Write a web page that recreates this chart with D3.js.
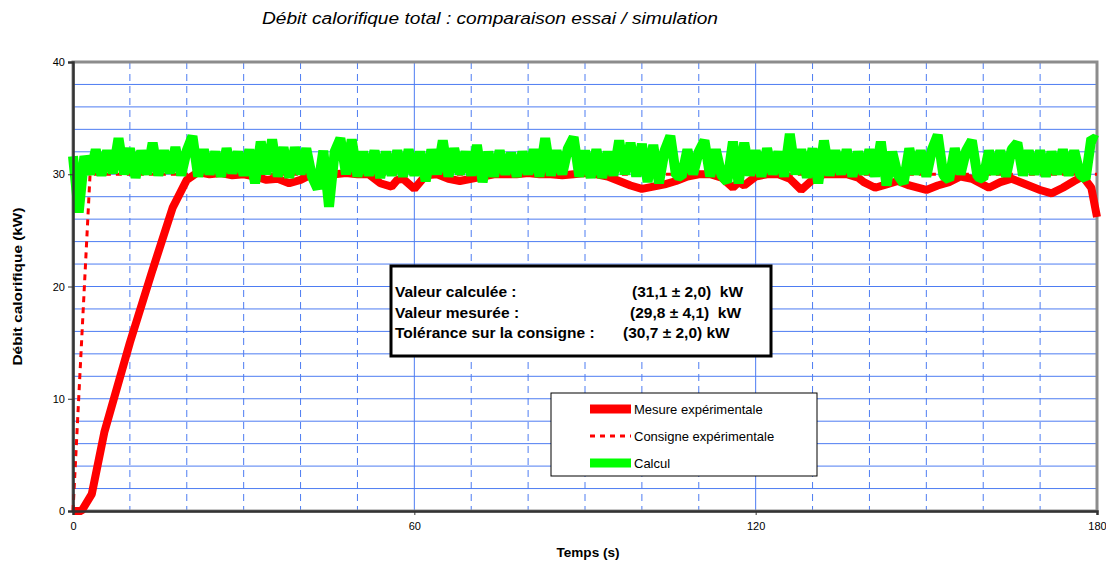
<!DOCTYPE html>
<html>
<head>
<meta charset="utf-8">
<script src="https://cdn.jsdelivr.net/npm/d3@7"></script>
<style>
  html, body { margin: 0; padding: 0; background: #fff; }
  svg { display: block; font-family: Arial, "Liberation Sans", sans-serif; }
</style>
</head>
<body>
<svg id="chart" width="1106" height="562"></svg>
<script>
// Axis ticks
const xTicks = [0, 60, 120, 180];
const yTicks = [0, 10, 20, 30, 40];

// Consigne expérimentale (t in s, kW)
const consigneT = [0, 3, 180];
const consigneV = [0, 30, 30];

// Mesure expérimentale (t in s, kW)
const mesureT = [0, 1.5, 3.3, 5.5, 10, 14, 17.5, 20, 22, 24, 26, 28, 30, 32, 34, 36, 38, 40, 42, 44, 46, 48, 50, 52, 54, 56, 57, 58, 60, 62, 64, 66, 68, 70, 72, 74, 76, 78, 80, 82, 84, 86, 88, 90, 92, 94, 96, 98, 100, 102, 104, 106, 108, 110, 112, 114, 116, 117, 118, 120, 122, 124, 126, 128, 130, 132, 134, 136, 138, 139, 141, 143, 145, 147, 150, 152, 154, 156, 158, 161, 163, 165, 167, 170, 172, 174, 176, 177.5, 179, 180];
const mesureV = [0, 0, 1.5, 7, 15, 21.5, 27, 29.5, 30.2, 30, 30.1, 29.9, 30, 29.8, 29.5, 29.6, 29.2, 29.5, 30, 29.8, 30, 30.1, 30, 30, 29.2, 28.9, 29.5, 29.6, 28.7, 29.9, 30, 29.6, 29.4, 29.6, 29.8, 30, 30, 30, 30.1, 30, 30, 29.9, 30, 30.1, 30, 29.8, 29.4, 29.0, 28.7, 28.9, 29.1, 29.4, 29.8, 30, 30, 29.7, 28.8, 29.3, 29.0, 29.8, 30, 30, 29.6, 28.6, 29.5, 30, 30, 30, 29.7, 29.3, 28.8, 29.1, 29.4, 29.0, 28.6, 29.0, 29.3, 29.8, 29.6, 28.8, 29.3, 29.6, 29.2, 28.6, 28.3, 28.8, 29.4, 29.8, 28.8, 26.2];

// Calcul, one value per second from t = 0 s to t = 180 s (kW)
const calculV = [
  31.6, 26.6, 31.6, 30.0, 32.2, 29.9, 32.1, 30.1, 33.2, 30.0,
  32.3, 29.7, 32.1, 30.0, 32.8, 29.9, 32.1, 30.1, 32.4, 29.9,
  32.1, 33.4, 29.8, 32.2, 30.0, 32.0, 29.8, 32.3, 30.1, 32.0,
  29.9, 32.2, 29.2, 32.9, 30.0, 33.1, 29.8, 32.4, 29.7, 32.4,
  30.0, 32.3, 29.8, 28.7, 32.1, 27.1, 32.0, 33.2, 30.0, 33.1,
  29.8, 32.0, 29.9, 32.1, 29.7, 32.0, 29.9, 32.1, 29.8, 32.2,
  29.9, 32.0, 29.4, 32.2, 30.0, 33.0, 29.8, 32.3, 30.0, 32.0,
  29.9, 32.6, 29.3, 32.0, 29.8, 32.1, 30.0, 31.9, 29.8, 32.0,
  30.0, 32.2, 29.8, 33.2, 29.9, 32.1, 30.0, 32.3, 33.3, 29.8,
  32.1, 29.7, 32.2, 29.7, 32.0, 29.9, 33.0, 30.0, 32.8, 29.8,
  32.7, 29.3, 32.6, 29.2, 32.1, 33.4, 29.9, 29.8, 32.2, 30.0,
  32.0, 33.0, 29.8, 32.2, 29.9, 29.3, 32.9, 29.2, 32.8, 29.9,
  32.1, 29.8, 32.3, 30.0, 32.0, 29.8, 33.6, 30.0, 32.2, 29.7,
  32.3, 29.2, 33.0, 29.9, 32.1, 30.0, 32.2, 29.8, 32.0, 30.0,
  32.2, 29.8, 32.9, 29.0, 32.0, 29.9, 29.2, 32.3, 30.0, 32.1,
  29.8, 32.2, 33.5, 29.9, 29.5, 32.3, 30.0, 32.1, 33.0, 29.8,
  29.6, 32.1, 30.0, 32.1, 29.8, 32.2, 32.8, 29.9, 32.1, 30.0,
  32.1, 29.8, 32.0, 30.0, 32.2, 29.9, 32.1, 30.0, 29.6, 33.2,
  33.0
];

// Summary box and legend texts
const summaryLabels = ["Valeur calculée :", "Valeur mesurée :", "Tolérance sur la consigne :"];
const summaryValues = ["(31,1 ± 2,0)  kW", "(29,8 ± 4,1)  kW", "(30,7 ± 2,0) kW"];
const legendLabels = ["Mesure expérimentale", "Consigne expérimentale", "Calcul"];

const svg = d3.select("#chart");
const m = { left: 73, right: 1097, top: 62, bottom: 511 };

const x = d3.scaleLinear().domain([0, 180]).range([m.left, m.right]);
const y = d3.scaleLinear().domain([0, 40]).range([m.bottom, m.top]);

const gridBlue = "#4d7cf2";

// Horizontal grid every 2 kW
svg.append("g")
  .selectAll("line")
  .data(d3.range(2, 40, 2))
  .join("line")
  .attr("x1", m.left).attr("x2", m.right)
  .attr("y1", d => y(d)).attr("y2", d => y(d))
  .attr("stroke", gridBlue)
  .attr("stroke-width", 1);

// Vertical grid: dashed every 10 s, solid at the labelled ticks
svg.append("g")
  .selectAll("line")
  .data(d3.range(10, 180, 10))
  .join("line")
  .attr("x1", d => x(d)).attr("x2", d => x(d))
  .attr("y1", m.top).attr("y2", m.bottom)
  .attr("stroke", gridBlue)
  .attr("stroke-width", 1)
  .attr("stroke-dasharray", d => d % 60 === 0 ? null : "7,5");

// Plot frame
svg.append("rect")
  .attr("x", m.left).attr("y", m.top)
  .attr("width", m.right - m.left).attr("height", m.bottom - m.top)
  .attr("fill", "none")
  .attr("stroke", "#8c8c8c")
  .attr("stroke-width", 3);

// Series
const line = d3.line().x(d => x(d[0])).y(d => y(d[1]));

const calcData = calculV.map((v, i) => [i, v]);
const mesureData = mesureT.map((t, i) => [t, mesureV[i]]);
const consigneData = consigneT.map((t, i) => [t, consigneV[i]]);

svg.append("path")
  .datum(consigneData)
  .attr("d", line)
  .attr("fill", "none")
  .attr("stroke", "#ff0000")
  .attr("stroke-width", 3)
  .attr("stroke-dasharray", "6,5");

svg.append("path")
  .datum(mesureData)
  .attr("d", line)
  .attr("fill", "none")
  .attr("stroke", "#ff0000")
  .attr("stroke-width", 8)
  .attr("stroke-linejoin", "bevel");

svg.append("path")
  .datum(calcData)
  .attr("d", line)
  .attr("fill", "none")
  .attr("stroke", "#00ff00")
  .attr("stroke-width", 10)
  .attr("stroke-linejoin", "bevel");

// Axes
const yAxis = svg.append("g")
  .attr("transform", `translate(${m.left},0)`)
  .call(d3.axisLeft(y).tickValues(yTicks).tickSize(5).tickPadding(3));
const xAxis = svg.append("g")
  .attr("transform", `translate(0,${m.bottom})`)
  .call(d3.axisBottom(x).tickValues(xTicks).tickSize(4).tickPadding(7));

[yAxis, xAxis].forEach(g => {
  g.select(".domain").attr("stroke", "#333").attr("stroke-width", 2.5);
  g.selectAll(".tick line").attr("stroke", "#333");
  g.selectAll(".tick text")
    .attr("font-size", 11)
    .attr("font-family", "Arial, 'Liberation Sans', sans-serif")
    .attr("fill", "#000");
});

// Titles
svg.append("text")
  .attr("x", 490).attr("y", 24)
  .attr("text-anchor", "middle")
  .attr("font-size", 16)
  .attr("font-style", "italic")
  .attr("textLength", 456)
  .attr("lengthAdjust", "spacingAndGlyphs")
  .text("Débit calorifique total : comparaison essai / simulation");

svg.append("text")
  .attr("x", 588).attr("y", 557)
  .attr("text-anchor", "middle")
  .attr("font-size", 12)
  .attr("font-weight", "bold")
  .attr("textLength", 63)
  .attr("lengthAdjust", "spacingAndGlyphs")
  .text("Temps (s)");

svg.append("text")
  .attr("transform", `translate(22,${(m.top + m.bottom) / 2}) rotate(-90)`)
  .attr("text-anchor", "middle")
  .attr("font-size", 12)
  .attr("font-weight", "bold")
  .attr("textLength", 158)
  .attr("lengthAdjust", "spacingAndGlyphs")
  .text("Débit calorifique  (kW)");

// Summary box
const box = svg.append("g");
box.append("rect")
  .attr("x", 391).attr("y", 266)
  .attr("width", 380).attr("height", 90)
  .attr("fill", "#fff")
  .attr("stroke", "#000")
  .attr("stroke-width", 3);
box.selectAll("text.lab")
  .data(summaryLabels)
  .join("text")
  .attr("class", "lab")
  .attr("x", 395)
  .attr("y", (d, i) => 297 + i * 20.5)
  .attr("font-size", 15.5)
  .attr("font-weight", "bold")
  .text(d => d);
const valX = [632, 630, 623];
box.selectAll("text.val")
  .data(summaryValues)
  .join("text")
  .attr("class", "val")
  .attr("x", (d, i) => valX[i])
  .attr("y", (d, i) => 297 + i * 20.5)
  .attr("font-size", 15.5)
  .attr("font-weight", "bold")
  .attr("xml:space", "preserve")
  .style("white-space", "pre")
  .text(d => d);

// Legend
const leg = svg.append("g");
leg.append("rect")
  .attr("x", 551).attr("y", 393)
  .attr("width", 266).attr("height", 83)
  .attr("fill", "#fff")
  .attr("stroke", "#000")
  .attr("stroke-width", 1);
const legRows = [409, 436, 463];
const legColors = ["#ff0000", "#ff0000", "#00ff00"];
legendLabels.forEach((lab, i) => {
  if (i === 1) {
    leg.append("line")
      .attr("x1", 590).attr("x2", 631)
      .attr("y1", legRows[i]).attr("y2", legRows[i])
      .attr("stroke", legColors[i])
      .attr("stroke-width", 3)
      .attr("stroke-dasharray", "5,5");
  } else {
    leg.append("line")
      .attr("x1", 590).attr("x2", 631)
      .attr("y1", legRows[i]).attr("y2", legRows[i])
      .attr("stroke", legColors[i])
      .attr("stroke-width", 9);
  }
  leg.append("text")
    .attr("x", 634).attr("y", legRows[i] + 5)
    .attr("font-size", 13)
    .text(lab);
});
</script>
</body>
</html>
